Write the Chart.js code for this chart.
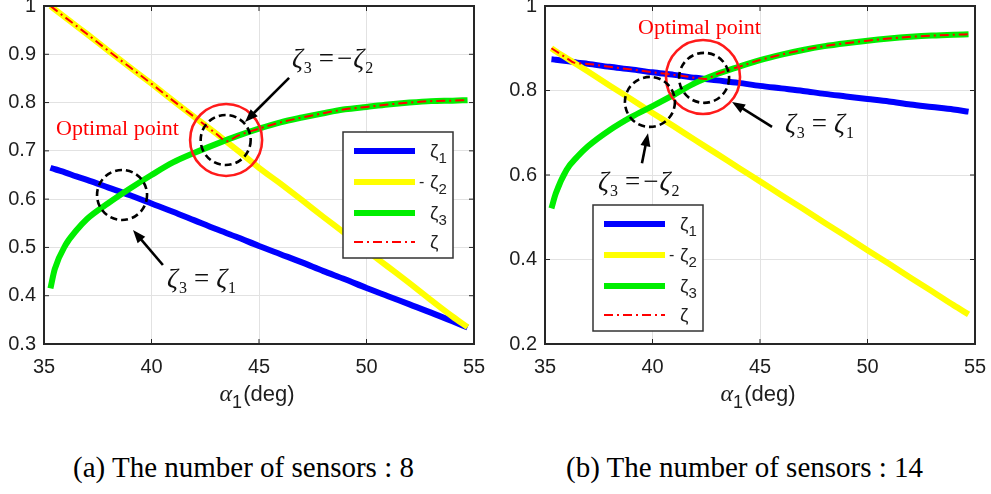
<!DOCTYPE html>
<html>
<head>
<meta charset="utf-8">
<script src="https://cdn.jsdelivr.net/npm/chart.js@4.4.0/dist/chart.umd.min.js"></script>
<style>
body { margin: 0; background: #fff; width: 991px; height: 494px; position: relative; overflow: hidden; }
.plot { position: absolute; top: 0; }
.caption { position: absolute; top: 453px; font: 29px/29px "Liberation Serif", "Times New Roman", serif; color: #000; white-space: nowrap; }
</style>
</head>
<body>
<canvas id="chart_a" class="plot" width="495" height="420" style="left:0px"></canvas>
<canvas id="chart_b" class="plot" width="496" height="420" style="left:495px"></canvas>
<div class="caption" style="left:73px">(a) The number of sensors : 8</div>
<div class="caption" style="left:566px">(b) The number of sensors : 14</div>
<script>
// alpha_1 (deg) sample points
const alpha_a = [35.3, 35.5, 36, 36.5, 37, 38, 39, 40, 41, 42, 43, 44, 45, 46, 47, 48, 49, 50, 51, 52, 53, 54, 54.7]
const zeta1_a = [0.665, 0.662, 0.655, 0.647, 0.640, 0.624, 0.608, 0.591, 0.574, 0.556, 0.538, 0.521, 0.503, 0.486, 0.469, 0.451, 0.434, 0.416, 0.399, 0.382, 0.365, 0.347, 0.334]
const minus_zeta2_a = [1.000, 0.993, 0.976, 0.959, 0.942, 0.907, 0.873, 0.839, 0.804, 0.770, 0.736, 0.701, 0.665, 0.632, 0.598, 0.563, 0.529, 0.494, 0.460, 0.426, 0.391, 0.357, 0.335]
const zeta3_a = [0.415, 0.455, 0.505, 0.535, 0.559, 0.592, 0.622, 0.650, 0.676, 0.696, 0.714, 0.731, 0.746, 0.759, 0.769, 0.778, 0.786, 0.791, 0.796, 0.800, 0.803, 0.804, 0.805]
const zeta_alpha_a = [35.3, 36, 37, 38, 39, 40, 41, 42, 43, 43.5, 44, 45, 46, 47, 48, 49, 50, 51, 52, 53, 54, 54.7]
const zeta_a = [1.000, 0.976, 0.942, 0.907, 0.873, 0.839, 0.804, 0.770, 0.736, 0.720, 0.731, 0.746, 0.759, 0.769, 0.778, 0.786, 0.791, 0.796, 0.800, 0.803, 0.804, 0.805]

const alpha_b = [35.3, 35.5, 36, 36.5, 37, 38, 39, 40, 41, 42, 43, 44, 45, 46, 47, 48, 49, 50, 51, 52, 53, 54, 54.7]
const zeta1_b = [0.874, 0.873, 0.870, 0.866, 0.863, 0.856, 0.850, 0.843, 0.837, 0.830, 0.824, 0.818, 0.811, 0.805, 0.799, 0.792, 0.786, 0.780, 0.774, 0.767, 0.761, 0.755, 0.750]
const minus_zeta2_b = [0.900, 0.893, 0.877, 0.861, 0.845, 0.812, 0.780, 0.747, 0.715, 0.682, 0.650, 0.617, 0.585, 0.552, 0.520, 0.487, 0.455, 0.422, 0.390, 0.357, 0.325, 0.292, 0.270]
const zeta3_b = [0.521, 0.556, 0.612, 0.643, 0.668, 0.706, 0.737, 0.763, 0.790, 0.818, 0.839, 0.856, 0.872, 0.885, 0.896, 0.905, 0.912, 0.918, 0.923, 0.927, 0.930, 0.932, 0.933]
const zeta_alpha_b = [35.3, 36, 36.35, 37, 38, 39, 40, 41, 42, 42.45, 43, 44, 45, 46, 47, 48, 49, 50, 51, 52, 53, 54, 54.7]
const zeta_b = [0.900, 0.877, 0.866, 0.863, 0.856, 0.850, 0.843, 0.837, 0.830, 0.827, 0.839, 0.856, 0.872, 0.885, 0.896, 0.905, 0.912, 0.918, 0.923, 0.927, 0.930, 0.932, 0.933]

const x_ticks = [35, 40, 45, 50, 55]
const y_ticks_a = [0.3, 0.4, 0.5, 0.6, 0.7, 0.8, 0.9, 1]
const y_ticks_b = [0.2, 0.4, 0.6, 0.8, 1]

const SANS = '"Liberation Sans", Arial, sans-serif'
const SERIF = '"Liberation Serif", "Times New Roman", serif'
const TICK_COLOR = '#1e1e1e'

// text made of pieces: [text, font, dy, extra space after]
function draw_pieces(ctx, x, y, pieces, color, align) {
    ctx.fillStyle = color
    ctx.textBaseline = 'alphabetic'
    ctx.textAlign = 'left'
    let total = 0
    for (const p of pieces) { ctx.font = p[1]; total += ctx.measureText(p[0]).width + (p[3] || 0) }
    let cx = align === 'center' ? x - total / 2 : x
    for (const p of pieces) {
        ctx.font = p[1]
        ctx.fillText(p[0], cx, y + (p[2] || 0))
        cx += ctx.measureText(p[0]).width + (p[3] || 0)
    }
}

function zeta_eq(sub_a, minus, sub_b) {
    const big = 'italic 27px ' + SERIF
    const small = '16px ' + SERIF
    const up = '27px ' + SERIF
    const p = [['ζ', big, 0, 1], [sub_a, small, 6, 7], ['=', up, 0, 3]]
    if (minus) p.push(['−', up, 0, 1])
    else p.push(['', up, 0, 4])
    p.push(['ζ', big, 0, 1], [sub_b, small, 6])
    return p
}

function draw_arrow(ctx, x1, y1, x2, y2) {
    const ang = Math.atan2(y2 - y1, x2 - x1)
    const len = 13, half = 5
    ctx.strokeStyle = '#000'
    ctx.fillStyle = '#000'
    ctx.lineWidth = 2.6
    ctx.setLineDash([])
    ctx.beginPath()
    ctx.moveTo(x1, y1)
    ctx.lineTo(x2 - Math.cos(ang) * len * 0.8, y2 - Math.sin(ang) * len * 0.8)
    ctx.stroke()
    ctx.beginPath()
    ctx.moveTo(x2, y2)
    ctx.lineTo(x2 - Math.cos(ang) * len - Math.sin(ang) * half, y2 - Math.sin(ang) * len + Math.cos(ang) * half)
    ctx.lineTo(x2 - Math.cos(ang) * len + Math.sin(ang) * half, y2 - Math.sin(ang) * len - Math.cos(ang) * half)
    ctx.closePath()
    ctx.fill()
}

const overlay = {
    id: 'overlay',
    afterDatasetsDraw(chart, args, opts) {
        const ctx = chart.ctx
        const ca = chart.chartArea
        const xs = chart.scales.x, ys = chart.scales.y
        const px = v => xs.getPixelForValue(v), py = v => ys.getPixelForValue(v)
        ctx.save()

        // frame and inward ticks
        ctx.strokeStyle = '#262626'
        ctx.lineWidth = 2
        ctx.strokeRect(ca.left, ca.top, ca.width, ca.height)
        ctx.lineWidth = 1
        ctx.beginPath()
        for (const t of xs.ticks) {
            const x = px(t.value)
            ctx.moveTo(x, ca.bottom); ctx.lineTo(x, ca.bottom - 5)
            ctx.moveTo(x, ca.top); ctx.lineTo(x, ca.top + 5)
        }
        for (const t of ys.ticks) {
            const y = py(t.value)
            ctx.moveTo(ca.left, y); ctx.lineTo(ca.left + 5, y)
            ctx.moveTo(ca.right, y); ctx.lineTo(ca.right - 5, y)
        }
        ctx.stroke()

        // circles
        for (const c of opts.circles) {
            ctx.beginPath()
            ctx.arc(px(c.x), py(c.y), c.r, 0, Math.PI * 2)
            ctx.strokeStyle = c.color
            ctx.lineWidth = c.width
            ctx.setLineDash(c.dash || [])
            ctx.stroke()
        }
        ctx.setLineDash([])

        // arrows
        for (const a of opts.arrows) draw_arrow(ctx, px(a.from[0]), py(a.from[1]), px(a.to[0]), py(a.to[1]))

        // labels
        for (const l of opts.labels) {
            if (l.text) {
                ctx.font = l.font
                ctx.fillStyle = l.color
                ctx.textAlign = 'left'
                ctx.textBaseline = 'alphabetic'
                ctx.fillText(l.text, px(l.x), py(l.y))
            } else {
                draw_pieces(ctx, px(l.x), py(l.y), l.pieces, '#111', 'left')
            }
        }

        // legend box
        const lg = opts.legend
        const bx = ca.left + lg.left, by = ca.top + lg.top
        ctx.fillStyle = '#fff'
        ctx.fillRect(bx, by, lg.width, lg.height)
        ctx.strokeStyle = '#333'
        ctx.lineWidth = 1.5
        ctx.strokeRect(bx, by, lg.width, lg.height)
        chart.data.datasets.forEach((ds, i) => {
            const ey = by + lg.rows[i]
            ctx.beginPath()
            ctx.moveTo(bx + 11, ey)
            ctx.lineTo(bx + 72, ey)
            ctx.strokeStyle = ds.borderColor
            ctx.lineWidth = ds.borderWidth
            ctx.setLineDash(ds.borderDash || [])
            ctx.stroke()
            ctx.setLineDash([])
            if (ds.legend_minus) {
                ctx.font = '16px ' + SANS
                ctx.fillStyle = '#222'
                ctx.textAlign = 'left'
                ctx.fillText('-', bx + 76, ey + 5)
            }
            const pieces = [['ζ', '19px ' + SANS, 0]]
            if (ds.legend_sub) pieces.push([ds.legend_sub, '15px ' + SANS, 6])
            draw_pieces(ctx, bx + 87, ey + 6, pieces, '#222', 'left')
        })
        ctx.restore()
    },
    afterDraw(chart) {
        const ctx = chart.ctx
        const ca = chart.chartArea
        ctx.save()
        draw_pieces(ctx, (ca.left + ca.right) / 2 - 2, ca.bottom + 57, [
            ['α', 'italic 24px ' + SERIF, 0, 0],
            ['1', '18px ' + SANS, 7, 1],
            ['(deg)', '22px ' + SANS, 0]
        ], '#1e1e1e', 'center')
        ctx.restore()
    }
}

function make_chart(canvas_id, alpha, z1, mz2, z3, zx, z, y_ticks, y_min, y_max, y_width, pad_right, overlay_opts) {
    const pts = (xs, ys) => xs.map((x, i) => ({ x: x, y: ys[i] }))
    const line = { pointRadius: 0, fill: false, cubicInterpolationMode: 'monotone', borderCapStyle: 'butt' }
    return new Chart(document.getElementById(canvas_id), {
        type: 'line',
        data: {
            datasets: [
                Object.assign({ label: 'ζ1', legend_sub: '1', data: pts(alpha, z1), borderColor: '#0000ff', borderWidth: 6, order: 4 }, line),
                Object.assign({ label: '- ζ2', legend_sub: '2', legend_minus: true, data: pts(alpha, mz2), borderColor: '#ffff00', borderWidth: 6, order: 3 }, line),
                Object.assign({ label: 'ζ3', legend_sub: '3', data: pts(alpha, z3), borderColor: '#00ee00', borderWidth: 6, order: 2 }, line),
                Object.assign({ label: 'ζ', data: pts(zx, z), borderColor: '#ff0000', borderWidth: 2, borderDash: [9, 4, 2, 4], order: 1 }, line)
            ]
        },
        options: {
            responsive: false,
            animation: false,
            devicePixelRatio: 1,
            layout: { padding: { top: 6, right: pad_right, left: 0, bottom: 0 } },
            scales: {
                x: {
                    type: 'linear', min: 35, max: 55,
                    afterBuildTicks: s => { s.ticks = x_ticks.map(v => ({ value: v })) },
                    afterFit: s => { s.height = 76; s.paddingLeft = 0; s.paddingRight = 0 },
                    ticks: { font: { family: SANS, size: 20 }, color: TICK_COLOR, padding: 11, maxRotation: 0, callback: v => String(v) },
                    grid: { color: '#e2e2e2', lineWidth: 1, drawTicks: false },
                    border: { display: false }
                },
                y: {
                    type: 'linear', min: y_min, max: y_max,
                    afterBuildTicks: s => { s.ticks = y_ticks.map(v => ({ value: v })) },
                    afterFit: s => { s.width = y_width; s.paddingTop = 0; s.paddingBottom = 0 },
                    ticks: { font: { family: SANS, size: 20 }, color: TICK_COLOR, padding: 8, callback: v => v === 1 ? '1' : v.toFixed(1) },
                    grid: { color: '#e2e2e2', lineWidth: 1, drawTicks: false },
                    border: { display: false }
                }
            },
            plugins: {
                legend: { display: false },
                tooltip: { enabled: false },
                overlay: overlay_opts
            }
        },
        plugins: [overlay]
    })
}

const red_font = '22px ' + SERIF
const legend_rows = [19, 50, 81, 110]

make_chart('chart_a', alpha_a, zeta1_a, minus_zeta2_a, zeta3_a, zeta_alpha_a, zeta_a, y_ticks_a, 0.3, 1, 44, 21, {
    legend: { left: 299, top: 126, width: 110, height: 126, rows: legend_rows },
    circles: [
        { x: 43.47, y: 0.7225, r: 36, color: '#ff1a1a', width: 2.6 },
        { x: 43.45, y: 0.7225, r: 25, color: '#000', width: 2.6, dash: [7, 4] },
        { x: 38.63, y: 0.6086, r: 25, color: '#000', width: 2.6, dash: [7, 4] }
    ],
    arrows: [
        { from: [46.4, 0.851], to: [44.35, 0.760] },
        { from: [40.53, 0.4636], to: [39.14, 0.536] }
    ],
    labels: [
        { text: 'Optimal point', font: red_font, color: '#ff0000', x: 35.56, y: 0.733 },
        { pieces: zeta_eq('3', true, '2'), x: 46.53, y: 0.874 },
        { pieces: zeta_eq('3', false, '1'), x: 40.72, y: 0.418 }
    ]
})

make_chart('chart_b', alpha_b, zeta1_b, minus_zeta2_b, zeta3_b, zeta_alpha_b, zeta_b, y_ticks_b, 0.2, 1, 50, 16, {
    legend: { left: 48, top: 199, width: 110, height: 126, rows: legend_rows },
    circles: [
        { x: 42.35, y: 0.832, r: 37, color: '#ff1a1a', width: 2.6 },
        { x: 42.4, y: 0.830, r: 25, color: '#000', width: 2.6, dash: [7, 4] },
        { x: 39.88, y: 0.773, r: 25, color: '#000', width: 2.6, dash: [7, 4] }
    ],
    arrows: [
        { from: [45.56, 0.714], to: [43.70, 0.773] },
        { from: [39.51, 0.628], to: [39.79, 0.699] }
    ],
    labels: [
        { text: 'Optimal point', font: red_font, color: '#ff0000', x: 39.33, y: 0.934 },
        { pieces: zeta_eq('3', false, '1'), x: 46.16, y: 0.702 },
        { pieces: zeta_eq('3', true, '2'), x: 37.47, y: 0.5645 }
    ]
})
</script>
</body>
</html>
